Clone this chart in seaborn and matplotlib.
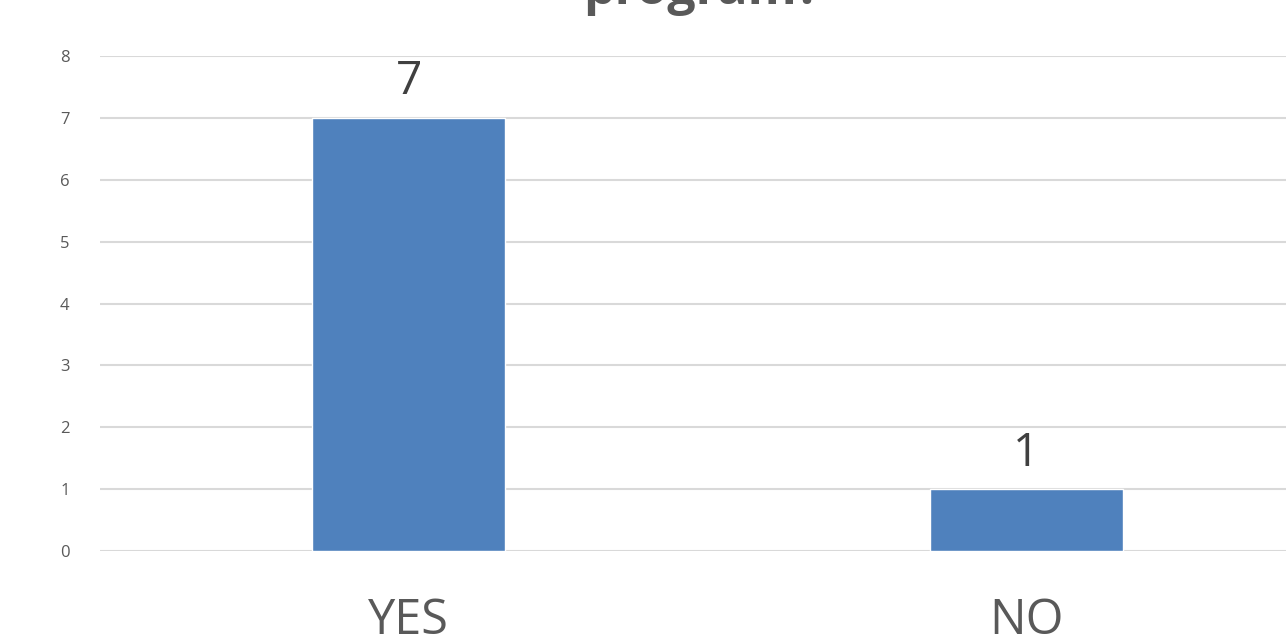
import matplotlib
matplotlib.use("Agg")
import matplotlib.pyplot as plt
import seaborn as sns
import pandas as pd

categories = ["YES", "NO"]
counts = [7, 1]
y_ticks = [0, 1, 2, 3, 4, 5, 6, 7, 8]
title_text = "program?"

sns.set_theme(style="white")
plt.rcParams["font.family"] = ["Open Sans", "DejaVu Sans"]

df = pd.DataFrame({"answer": categories, "count": counts})

fig = plt.figure(figsize=(12.86, 6.37), dpi=100)
ax = fig.add_axes([100 / 1286, 1 - 551 / 637, 1235 / 1286, 495 / 637])

sns.barplot(data=df, x="answer", y="count", color="#4F81BD", width=0.3125,
            saturation=1, ax=ax, zorder=3)

ax.set_xlim(-0.5, 1.5)
ax.set_ylim(0, 8)
ax.set_yticks(y_ticks)
ax.yaxis.grid(True, color="#D9D9D9", linewidth=1.5, zorder=0)
ax.set_axisbelow(True)
for s in ax.spines.values():
    s.set_visible(False)
ax.set_xlabel("")
ax.set_ylabel("")
ax.tick_params(axis="y", length=0, pad=22, labelsize=12, labelcolor="#595959")
ax.tick_params(axis="x", length=0, pad=33, labelsize=35, labelcolor="#595959")

for container in ax.containers:
    ax.bar_label(container, labels=[str(v) for v in counts], padding=9,
                 fontsize=33, color="#404040")

fig.text(702 / 1286, 1 - 4 / 637, title_text, ha="center", va="baseline",
         fontsize=36, fontweight="bold", color="#595959")

fig.savefig("out.png", dpi=100)
